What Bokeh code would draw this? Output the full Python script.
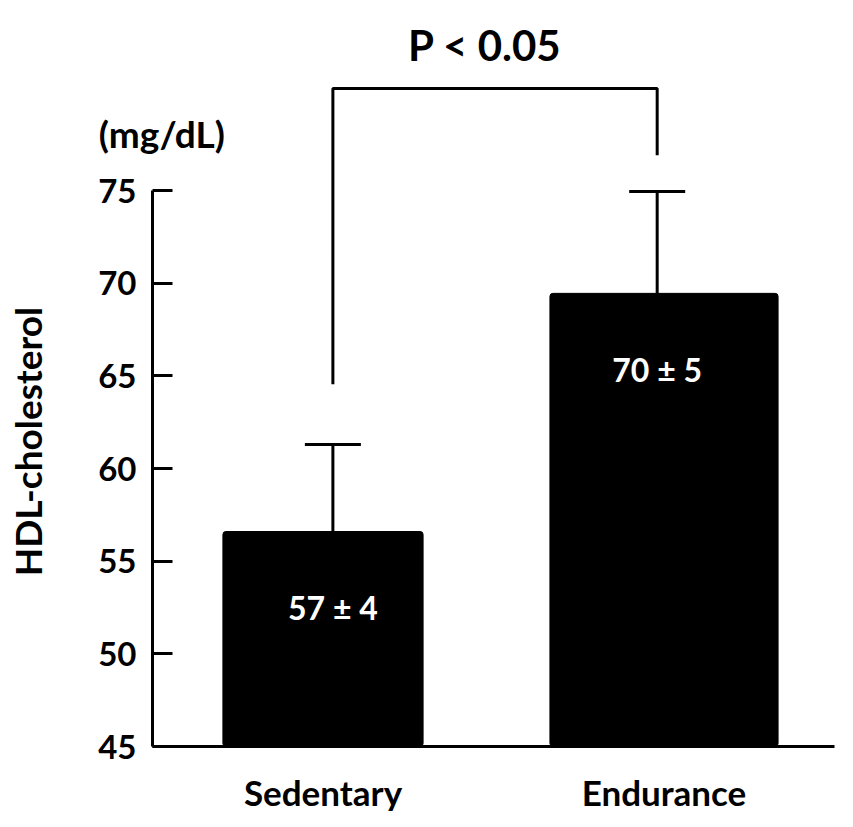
import math
from bokeh.plotting import figure
from bokeh.models import (ColumnDataSource, FixedTicker, Label, Whisker, TeeHead, Range1d)
from bokeh.core.properties import value
from bokeh.embed import file_html
from bokeh.resources import INLINE

# ---- data ----
groups = ["Sedentary", "Endurance"]
means = [56.6, 69.45]
sem_upper = [4.7, 5.5]
bar_labels = ["57 \u00b1 4", "70 \u00b1 5"]
y_ticks = [45, 50, 55, 60, 65, 70, 75]
bracket_left_bottom = 64.55
bracket_right_bottom = 76.9
bracket_top = 80.5
p_text = "P < 0.05"
unit_text = "(mg/dL)"
y_title = "HDL-cholesterol"

# ---- styles / layout ----
FONT = "Lato"
LW = 3
bar_widths = [0.587, 0.669]
err_dx = [0.029, -0.02]      # whisker / bracket offsets from bar centres
label_drop = 4.1             # white value labels below bar top
W, H = 837, 811
X0_PX, X1_PX = 152, 834      # x = 0 .. 2
Y45_PX, Y75_PX = 746, 190

xs = [i + 0.5 for i in range(len(groups))]
ex = [x + d for x, d in zip(xs, err_dx)]
tops_err = [m + e for m, e in zip(means, sem_upper)]

ppx = (X1_PX - X0_PX) / 2.0
ppy = (Y45_PX - Y75_PX) / 30.0
x_lo = -X0_PX / ppx
x_hi = 2 + (W - X1_PX) / ppx
y_hi = 75 + Y75_PX / ppy
y_lo = 45 - (H - Y45_PX) / ppy

src = ColumnDataSource(dict(
    x=xs, ex=ex, top=means, upper=tops_err, w=bar_widths,
    label=bar_labels, label_y=[m - label_drop for m in means],
))

p = figure(output_backend="svg", toolbar_location=None,
           width=W, height=H,
           x_range=Range1d(x_lo, x_hi), y_range=Range1d(y_lo, y_hi),
           min_border=0,
           background_fill_color="white", border_fill_color="white")
p.outline_line_color = None
p.grid.visible = False

p.vbar(x="x", top="top", bottom=45, width="w", source=src,
       fill_color="black", line_color="black", border_radius=3)

w = Whisker(base="ex", lower="top", upper="upper", source=src,
            dimension="height", line_width=LW, line_color="black",
            upper_head=TeeHead(size=56, line_width=LW, line_color="black"),
            lower_head=None)
p.add_layout(w)

p.text(x="ex", y="label_y", text="label", source=src,
       text_color="white", text_font=value(FONT), text_font_size="32px",
       text_font_style="bold", text_align="center", text_baseline="alphabetic")

# significance bracket
p.line(x=[ex[0], ex[0], ex[1], ex[1]],
       y=[bracket_left_bottom, bracket_top, bracket_top, bracket_right_bottom],
       line_width=LW, line_color="black")

p.add_layout(Label(x=0.975, y=82.875, text=p_text,
                   text_font=FONT, text_font_size="42px", text_font_style="bold",
                   text_align="center", text_baseline="alphabetic", text_color="black"))
p.add_layout(Label(x=0.0276, y=78.05, text=unit_text,
                   text_font=FONT, text_font_size="37px", text_font_style="bold",
                   text_align="center", text_baseline="alphabetic", text_color="black"))
p.add_layout(Label(x=-0.366, y=61.45, text=y_title, angle=math.pi / 2,
                   text_font=FONT, text_font_size="37px", text_font_style="bold",
                   text_align="center", text_baseline="alphabetic", text_color="black"))

# y axis
ya = p.yaxis[0]
ya.fixed_location = 0
ya.ticker = FixedTicker(ticks=y_ticks)
ya.bounds = (45, 75)
ya.major_tick_in = 20
ya.major_tick_out = 0
ya.minor_tick_line_color = None
ya.axis_line_width = LW
ya.major_tick_line_width = LW
ya.major_label_standoff = 16
ya.major_label_text_font = FONT
ya.major_label_text_font_size = "33px"
ya.major_label_text_font_style = "bold"
ya.major_label_text_color = "black"

# x axis
xa = p.xaxis[0]
xa.fixed_location = 45
xa.ticker = FixedTicker(ticks=xs)
xa.bounds = (0, 2)
xa.major_label_overrides = {x: g for x, g in zip(xs, groups)}
xa.major_tick_line_color = None
xa.minor_tick_line_color = None
xa.axis_line_width = LW
xa.major_label_standoff = 18
xa.major_label_text_font = FONT
xa.major_label_text_font_size = "35px"
xa.major_label_text_font_style = "bold"
xa.major_label_text_color = "black"

open("out.html", "w").write(file_html(p, INLINE))
